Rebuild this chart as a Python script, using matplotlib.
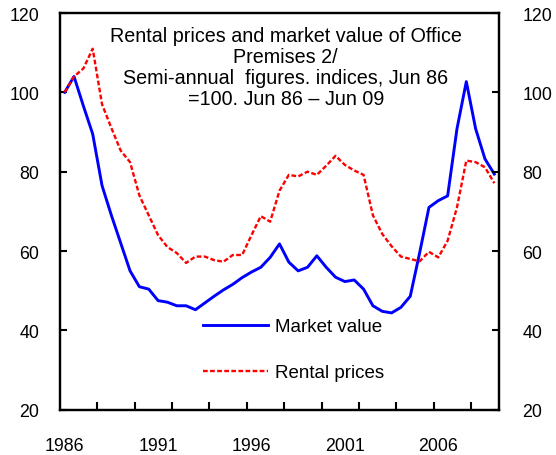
import numpy as np
import matplotlib.pyplot as plt

plt.rcParams['font.family'] = ['Liberation Sans', 'DejaVu Sans']

# Semi-annual observations, Jun 86 - Jun 09 (index, Jun 86 = 100)
year_labels = ['1986', '1991', '1996', '2001', '2006']
market_value = [100, 104, 96.6, 89.5, 76.5, 69, 62, 55, 51, 50.4,
                47.5, 47.1, 46.2, 46.2, 45.2, 46.9, 48.6, 50.2, 51.6, 53.3,
                54.7, 55.9, 58.4, 61.8, 57.2, 55, 55.9, 58.8, 55.9, 53.4,
                52.3, 52.7, 50.4, 46.2, 44.8, 44.4, 45.8, 48.6, 59.5, 71,
                72.7, 73.9, 90.8, 102.7, 90.8, 83.2, 79.4]
rental_prices = [100, 104, 106, 111, 97, 91, 85.3, 82.4, 74, 69,
                 64, 61, 59.5, 57, 58.6, 58.6, 57.7, 57.3, 59, 59,
                 64, 68.8, 67.4, 75.2, 79.2, 78.8, 80, 79.2, 81.5, 84,
                 81.7, 80.3, 79.2, 69, 64.3, 61.2, 58.6, 58, 57.4, 59.8,
                 58.4, 62.6, 71, 82.8, 82.4, 81.1, 77.1]

x = np.arange(len(market_value))

fig = plt.figure(figsize=(5.56, 4.56), dpi=100)
ax = fig.add_axes([60/556, 1-410.7/456, 439/556, 396.7/456])

ax.plot(x, market_value, color='#0000ff', lw=2.1, label='Market value')
ax.plot(x, rental_prices, color='#ff0000', lw=1.7, ls=(0, (2, 1)), label='Rental prices')

ax.set_xlim(-0.5, len(x) - 0.5)
ax.set_ylim(20, 120)

# category axis: tick marks every 4 half-years, labels every 5 years
ax.set_xticks(np.arange(3.5, len(x) - 1, 4))
ax.set_xticklabels([])
ax.set_xticks(np.arange(0, len(x), 10), minor=True)
ax.set_xticklabels(year_labels, minor=True)
ax.tick_params(axis='x', which='major', direction='in', length=6, width=1.5)
ax.tick_params(axis='x', which='minor', length=0, pad=20, labelsize=12.8)

ax.set_yticks(np.arange(20, 121, 20))
ax.tick_params(axis='y', direction='in', length=5, width=1.5, labelsize=12.8, pad=15)

ax2 = ax.twinx()
ax2.set_ylim(20, 120)
ax2.set_yticks(np.arange(20, 121, 20))
ax2.tick_params(axis='y', direction='in', length=5, width=1.5, labelsize=12.8, pad=17)

for a in (ax, ax2):
    for s in a.spines.values():
        s.set_linewidth(1.6)

ax.text(0.514, 0.966, 'Rental prices and market value of Office\nPremises 2/\n'
        'Semi-annual  figures. indices, Jun 86\n=100. Jun 86 \u2013 Jun 09',
        transform=ax.transAxes, ha='center', va='top', fontsize=14.2,
        linespacing=1.13)

ax.legend(loc='upper left', bbox_to_anchor=(203/556, 1-319/456),
          bbox_transform=fig.transFigure, frameon=False, fontsize=13.5,
          handlelength=3.47, handletextpad=0.37, labelspacing=1.56,
          borderpad=0, borderaxespad=0)

fig.savefig('out.png', dpi=100)
